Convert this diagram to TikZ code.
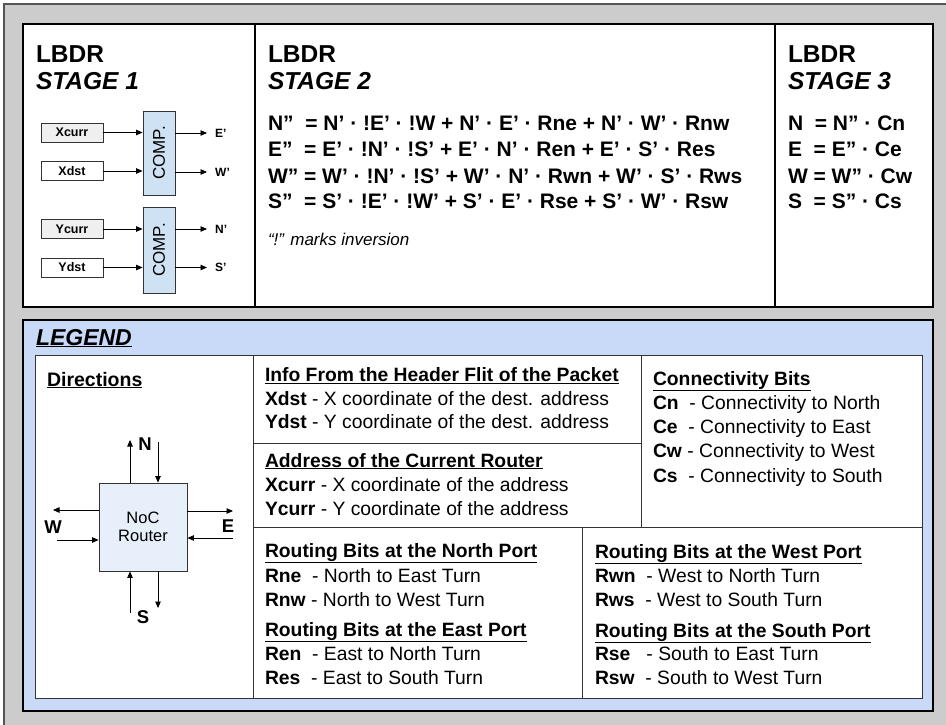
\documentclass[tikz,border=0pt]{standalone}
\usepackage{fontspec}
\setmainfont{Liberation Sans}
\usetikzlibrary{arrows.meta}
\definecolor{bggray}{HTML}{CCCCCC}
\definecolor{framegray}{HTML}{555555}
\definecolor{legblue}{HTML}{C9DAF8}
\definecolor{compblue}{HTML}{CFE2F3}
\definecolor{routerblue}{HTML}{E6EFFA}
\definecolor{boxgray}{HTML}{EFEFEF}
\definecolor{linegray}{HTML}{333333}
\newcommand{\fs}[1]{\fontsize{#1}{#1}\selectfont}
\begin{document}
\begin{tikzpicture}[x=1pt,y=-1pt,
  txt/.style={anchor=base west, inner sep=0pt, outer sep=0pt},
  inbox/.style={draw=linegray, line width=0.8pt, minimum width=62pt, minimum height=19pt, inner sep=0pt, font=\fs{12.5}\bfseries},
  compbox/.style={draw=linegray, line width=0.8pt, fill=compblue, minimum width=32pt, inner sep=0pt},
  arr/.style={-{Triangle[length=6.5pt,width=5.5pt]}, line width=0.8pt},
  outlbl/.style={anchor=west, inner sep=0pt, font=\fs{12}\bfseries},
  eq/.style={txt, font=\fs{21}\bfseries},
  head/.style={txt, font=\fs{24.5}\bfseries},
  lt/.style={txt, font=\fs{19.3}},
  dirlbl/.style={inner sep=0pt, font=\fs{18.5}\bfseries}
]
\useasboundingbox (0,0) rectangle (946,725);
% outer frame
\fill[bggray] (4,4) rectangle (946,725);
\draw[framegray, line width=1.5pt] (4,725) -- (4,4) -- (946,4);
% top panel
\draw[line width=2pt, fill=white] (23,24) rectangle (933,307);
\draw[line width=1.6pt] (255,24) -- (255,307);
\draw[line width=1.6pt] (775,24) -- (775,307);
% stage 1
\node[head] (h1a) at (36,63) {LBDR};
\node[head] (h1b) at (36,89) {\itshape STAGE 1};
\node[inbox, fill=boxgray] (xcurr) at (72,132.5) {Xcurr};
\node[inbox, fill=white] (xdst) at (72,171) {Xdst};
\node[inbox, fill=boxgray] (ycurr) at (72,229) {Ycurr};
\node[inbox, fill=white] (ydst) at (72,267.5) {Ydst};
\node[compbox, minimum height=84pt] (comp1) at (159,153) {};
\node[compbox, minimum height=86pt] (comp2) at (159,250) {};
\node[rotate=90, font=\fs{17}, inner sep=0pt] (c1t) at (comp1.center) {COMP.};
\node[rotate=90, font=\fs{17}, inner sep=0pt] (c2t) at (comp2.center) {COMP.};
\coordinate (c1a) at (comp1.west |- xcurr);
\coordinate (c1b) at (comp1.west |- xdst);
\coordinate (c2a) at (comp2.west |- ycurr);
\coordinate (c2b) at (comp2.west |- ydst);
\draw[arr] (xcurr.east) -- (c1a);
\draw[arr] (xdst.east) -- (c1b);
\draw[arr] (ycurr.east) -- (c2a);
\draw[arr] (ydst.east) -- (c2b);
\node[outlbl] (ep) at (215,133) {E’};
\node[outlbl] (wp) at (215,172) {W’};
\node[outlbl] (np) at (215,229) {N’};
\node[outlbl] (sp) at (215,267.5) {S’};
\draw[arr] (comp1.east |- ep) -- (207,133);
\draw[arr] (comp1.east |- wp) -- (207,172);
\draw[arr] (comp2.east |- np) -- (207,229);
\draw[arr] (comp2.east |- sp) -- (207,267.5);
% stage 2
\node[head] (h2a) at (268,63) {LBDR};
\node[head] (h2b) at (268,89) {\itshape STAGE 2};
\node[eq] (e1) at (268,131) {N”\ \ = N’ · !E’ · !W + N’ · E’ · Rne + N’ · W’ · Rnw};
\node[eq] (e2) at (268,157) {E”\ \ = E’ · !N’ · !S’ + E’ · N’ · Ren + E’ · S’ · Res};
\node[eq] (e3) at (268,183) {W” = W’ · !N’ · !S’ + W’ · N’ · Rwn + W’ · S’ · Rws};
\node[eq] (e4) at (268,208) {S”\ \ = S’ · !E’ · !W’ + S’ · E’ · Rse + S’ · W’ · Rsw};
\node[txt, font=\fs{17}\itshape] (inv) at (268,245) {“!” marks inversion};
% stage 3
\node[head] (h3a) at (788,63) {LBDR};
\node[head] (h3b) at (788,89) {\itshape STAGE 3};
\node[eq] (f1) at (788,131) {N\ \ = N” · Cn};
\node[eq] (f2) at (788,157) {E\ \ = E” · Ce};
\node[eq] (f3) at (788,183) {W = W” · Cw};
\node[eq] (f4) at (788,208) {S\ \ = S” · Cs};
% legend panel
\draw[line width=2.5pt, fill=legblue] (23,320) rectangle (933,711);
\node[txt, font=\fs{23}\bfseries\itshape] (leg) at (36,345) {\underline{LEGEND}};
\draw[linegray, line width=1pt, fill=white] (35,355) rectangle (922,698);
\draw[linegray, line width=1pt] (253,355) -- (253,698);
\draw[linegray, line width=1pt] (253,443) -- (641,443);
\draw[linegray, line width=1pt] (641,355) -- (641,527);
\draw[linegray, line width=1pt] (253,527) -- (922,527);
\draw[linegray, line width=1pt] (582,527) -- (582,698);
% directions
\node[lt, font=\fs{19.5}\bfseries] (dir) at (47,386) {\underline{Directions}};
\node[draw=linegray, line width=0.8pt, fill=routerblue, minimum width=88pt, minimum height=88pt, inner sep=0pt, align=center, font=\fs{16.5}] (router) at (143,527) {NoC\\[2pt]Router};
\coordinate (nout) at (130,440);
\coordinate (nin) at (158,442);
\coordinate (wout) at (53,510);
\coordinate (win) at (57,540);
\coordinate (eout) at (233,511);
\coordinate (ein) at (233,538);
\coordinate (sin) at (130,613);
\coordinate (sout) at (158,608);
\draw[arr] (router.north -| nout) -- (nout);
\draw[arr] (nin) -- (router.north -| nin);
\draw[arr] (router.west |- wout) -- (wout);
\draw[arr] (win) -- (router.west |- win);
\draw[arr] (router.east |- eout) -- (eout);
\draw[arr] (ein) -- (router.east |- ein);
\draw[arr] (sin) -- (router.south -| sin);
\draw[arr] (router.south -| sout) -- (sout);
\node[dirlbl, anchor=base] (ln) at (145,450) {N};
\node[dirlbl, anchor=base] (lw) at (53,533) {W};
\node[dirlbl, anchor=base] (le) at (228,532) {E};
\node[dirlbl, anchor=base] (ls) at (143,623) {S};
% header info
\node[lt] (i0) at (265,381.5) {\textbf{\underline{Info From the Header Flit of the Packet}}};
\node[lt] (i1) at (265,405) {\textbf{Xdst} - X coordinate of the dest. address};
\node[lt] (i2) at (265,428) {\textbf{Ydst} - Y coordinate of the dest. address};
\node[lt] (a0) at (265,467) {\textbf{\underline{Address of the Current Router}}};
\node[lt] (a1) at (265,491) {\textbf{Xcurr} - X coordinate of the address};
\node[lt] (a2) at (265,515) {\textbf{Ycurr} - Y coordinate of the address};
% connectivity
\node[lt] (k0) at (653,385) {\textbf{\underline{Connectivity Bits}}};
\node[lt] (k1) at (653,409) {\textbf{Cn}\ \ - Connectivity to North};
\node[lt] (k2) at (653,433) {\textbf{Ce}\ \ - Connectivity to East};
\node[lt] (k3) at (653,457) {\textbf{Cw} - Connectivity to West};
\node[lt] (k4) at (653,482) {\textbf{Cs}\ \ - Connectivity to South};
% routing north / east
\node[lt] (rn0) at (265,557) {\textbf{\underline{Routing Bits at the North Port}}};
\node[lt] (rn1) at (265,582) {\textbf{Rne}\ \ - North to East Turn};
\node[lt] (rn2) at (265,606) {\textbf{Rnw} - North to West Turn};
\node[lt] (re0) at (265,636) {\textbf{\underline{Routing Bits at the East Port}}};
\node[lt] (re1) at (265,660) {\textbf{Ren}\ \ - East to North Turn};
\node[lt] (re2) at (265,684) {\textbf{Res}\ \ - East to South Turn};
% routing west / south
\node[lt] (rw0) at (595,558) {\textbf{\underline{Routing Bits at the West Port}}};
\node[lt] (rw1) at (595,582) {\textbf{Rwn}\ \ - West to North Turn};
\node[lt] (rw2) at (595,606) {\textbf{Rws}\ \ - West to South Turn};
\node[lt] (rs0) at (595,637) {\textbf{\underline{Routing Bits at the South Port}}};
\node[lt] (rs1) at (595,660) {\textbf{Rse}\ \ \ - South to East Turn};
\node[lt] (rs2) at (595,684) {\textbf{Rsw}\ \ - South to West Turn};
\end{tikzpicture}
\end{document}
